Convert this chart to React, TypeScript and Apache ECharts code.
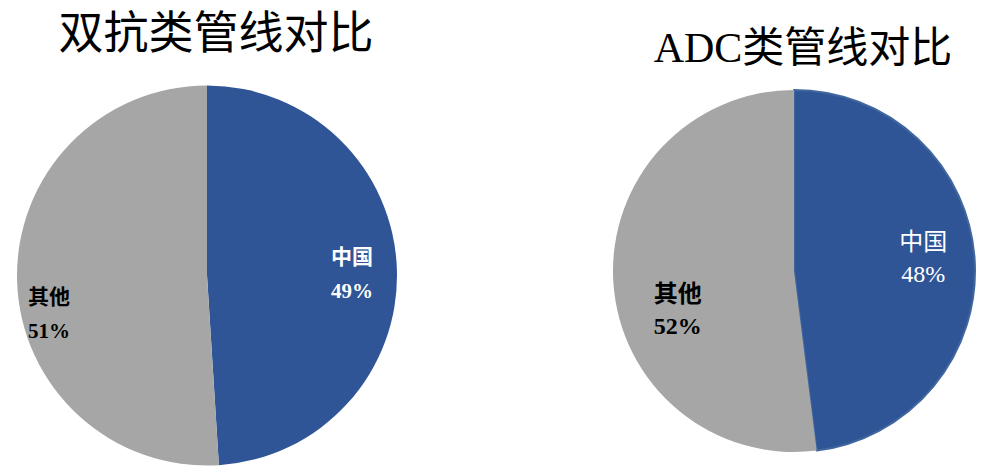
import React, { useEffect, useRef } from "react";
import * as echarts from "echarts";

const categories = ["中国", "其他"];
const bispecificValues = [49, 51];
const adcValues = [48, 52];
const titles = ["双抗类管线对比", "ADC类管线对比"];

const BLUE = "#2F5597";
const GRAY = "#A6A6A6";
const FONT = "'Liberation Serif', 'Noto Sans CJK SC', serif";

export default function App() {
  const ref = useRef<HTMLDivElement>(null);
  useEffect(() => {
    document.body.style.margin = "0";
    const chart = echarts.init(ref.current!, null, { renderer: "svg" });
    const mk = (vals: number[]) =>
      categories.map((name, i) => ({ name, value: vals[i] }));
    chart.setOption({
      animation: false,
      backgroundColor: "#ffffff",
      title: [
        {
          text: titles[0],
          left: 211,
          top: 6,
          textAlign: "center",
          textStyle: { fontFamily: FONT, fontSize: 45, fontWeight: "normal", color: "#000" },
        },
        {
          text: titles[1],
          left: 798,
          top: 22,
          textAlign: "center",
          textStyle: { fontFamily: FONT, fontSize: 42, fontWeight: "normal", color: "#000" },
        },
      ],
      series: [
        {
          type: "pie",
          center: [207, 275.5],
          radius: [0, 190],
          startAngle: 90,
          clockwise: true,
          silent: true,
          data: mk(bispecificValues).map((d, i) => ({
            ...d,
            itemStyle: { color: i === 0 ? BLUE : GRAY },
            label: {
              color: i === 0 ? "#ffffff" : "#000000",
            },
          })),
          label: {
            show: true,
            position: "inside",
            formatter: "{b}\n{c}%",
            fontFamily: FONT,
            fontSize: 21,
            fontWeight: "bold",
            lineHeight: 34,
            align: "center",
          },
          labelLine: { show: false },
          labelLayout: (p: any) =>
            p.dataIndex === 0 ? { dx: 47, dy: 2 } : { dx: -60, dy: 35 },
        },
        {
          type: "pie",
          center: [794, 271],
          radius: [0, 181],
          startAngle: 90,
          clockwise: true,
          silent: true,
          data: mk(adcValues).map((d, i) => ({
            ...d,
            itemStyle:
              i === 0
                ? { color: BLUE, borderColor: "#41679E", borderWidth: 2 }
                : { color: GRAY },
            label:
              i === 0
                ? { color: "#ffffff", fontWeight: "normal" }
                : { color: "#000000", fontWeight: "bold" },
          })),
          label: {
            show: true,
            position: "inside",
            formatter: "{b}\n{c}%",
            fontFamily: FONT,
            fontSize: 24,
            lineHeight: 32,
            align: "center",
          },
          labelLine: { show: false },
          labelLayout: (p: any) =>
            p.dataIndex === 0 ? { dx: 36, dy: -7 } : { dx: -23, dy: 33 },
        },
      ],
    });
    return () => chart.dispose();
  }, []);
  return (
    <div
      ref={ref}
      style={{ position: "absolute", left: 0, top: 0, width: 1001, height: 471 }}
    />
  );
}
